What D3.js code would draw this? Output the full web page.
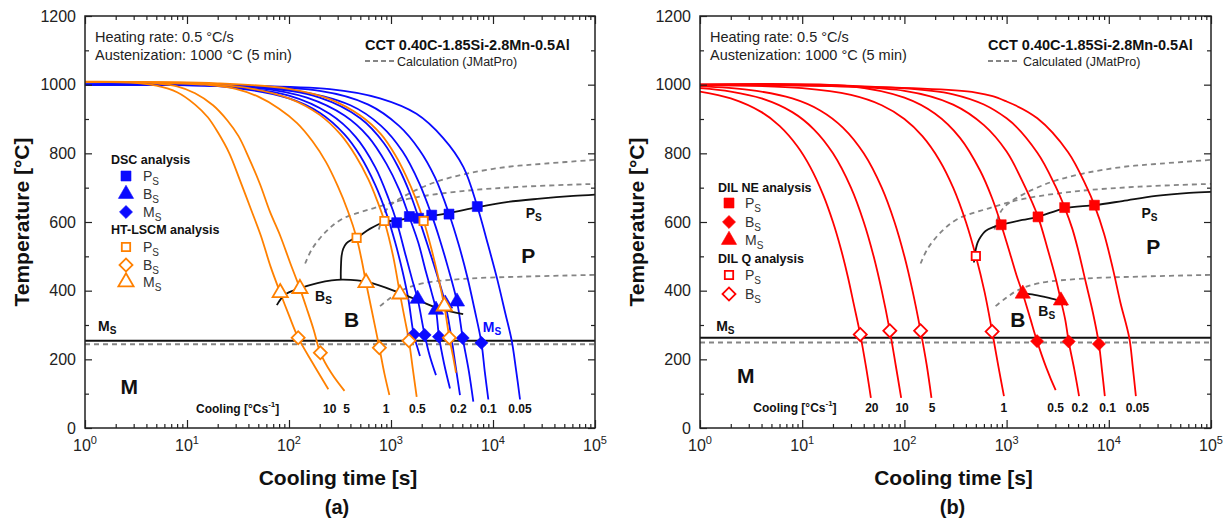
<!DOCTYPE html>
<html>
<head>
<meta charset="utf-8">
<script src="https://d3js.org/d3.v7.min.js"></script>
<style>
  body { margin: 0; background: #fff; }
  svg text { font-family: "Liberation Sans", Arial, sans-serif; }
</style>
</head>
<body>
<svg id="chart" width="1231" height="522"></svg>
<script>
// axis ticks
const timeTicks = [1, 10, 100, 1000, 10000, 100000];
const tempTicks = [0, 200, 400, 600, 800, 1000, 1200];

// (a) HT-LSCM cooling curves [time s, temp C] - orange
const lscmCurves = [
  [[1,1008],[3,1005],[5,997],[8,978],[12,942],[16,905],[20,862],[26,800],[33,722],[42,640],[53,560],[66,470],[82,394],[100,328],[123,263],[170,190],[243,113]],
  [[1,1009],[3,1008],[5,1004],[8,995],[12,975],[18,940],[25,895],[32,850],[40,790],[52,710],[65,630],[82,560],[103,480],[128,406],[150,346],[175,285],[203,219],[260,160],[350,108]],
  [[1,1008],[5,1006],[15,1000],[30,988],[50,965],[80,930],[120,888],[170,835],[230,775],[300,705],[380,630],[460,554],[515,490],[569,423],[650,340],[769,234],[860,160],[964,96]],
  [[1,1008],[10,1005],[40,990],[100,960],[200,912],[320,855],[450,793],[600,724],[730,663],[861,603],[1050,500],[1225,390],[1360,320],[1500,254],[1640,170],[1786,91]],
  [[1,1008],[20,1004],[100,988],[250,958],[500,910],[800,855],[1100,795],[1400,735],[1750,668],[2089,603],[2500,520],[2900,440],[3334,355],[3733,263],[4050,210],[4335,161]]
];

// (a) DSC cooling curves - blue
const dscCurves = [
  [[1,1000],[20,996],[100,960],[200,918],[350,855],[500,792],[700,708],[900,625],[1100,540],[1300,455],[1480,375],[1671,272],[1800,238],[1923,210]],
  [[1,1000],[20,997],[100,968],[250,915],[450,848],[700,760],[950,667],[1138,600],[1400,500],[1620,430],[1824,376],[2138,271],[2400,210],[2761,154]],
  [[1,1000],[50,990],[150,962],[350,910],[600,848],[900,770],[1200,695],[1514,614],[1850,540],[2200,455],[2500,395],[2761,344],[2951,268],[3300,190],[3786,115]],
  [[1,1000],[50,992],[200,962],[500,902],[850,830],[1200,755],[1550,680],[1866,612],[2300,530],[2800,450],[3400,363],[3900,265],[4300,180],[4746,96]],
  [[1,1000],[100,985],[400,940],[800,880],[1300,805],[1900,712],[2506,620],[3000,550],[3600,470],[4436,368],[5050,262],[5800,165],[6412,77]],
  [[1,1000],[200,982],[600,942],[1200,880],[1900,810],[2700,730],[3704,624],[4600,535],[5600,440],[6600,345],[7700,248],[8300,165],[9000,83]],
  [[1,1000],[251,987],[780,960],[1778,915],[3236,845],[5129,760],[7015,645],[8913,535],[10965,435],[13183,335],[15241,255],[16800,171],[18408,83]]
];

// (b) dilatometer cooling curves - red
const dilCurves = [
  [[1,980],[2,960],[4,920],[6,880],[9,820],[12,760],[16,680],[20,600],[24,520],[28,440],[32,360],[37,272],[42,180],[47,88]],
  [[1,990],[2,980],[4,960],[8,920],[13,870],[20,800],[30,700],[40,600],[50,500],[60,400],[72,283],[82,185],[93,88]],
  [[1,995],[3,985],[8,960],[15,925],[25,875],[40,800],[60,700],[80,600],[100,500],[120,400],[144,283],[165,185],[184,88]],
  [[1,999],[10,990],[30,970],[60,940],[100,900],[150,850],[220,780],[300,700],[400,600],[500,501],[610,395],[722,281],[830,180],[942,93]],
  [[1,1000],[30,995],[100,962],[200,915],[350,845],[550,750],[720,670],[885,592],[1100,500],[1250,445],[1440,391],[1700,320],[1986,253],[2450,175],[3020,110]],
  [[1,1000],[100,982],[300,942],[600,882],[1000,805],[1500,705],[2030,615],[2500,525],[3000,440],[3400,371],[3750,315],[4050,252],[4600,170],[5117,93]],
  [[1,1000],[300,972],[1000,902],[2000,802],[3000,705],[3700,642],[4400,580],[5000,520],[6000,420],[7000,335],[8000,245],[8600,165],[9141,93]],
  [[1,1000],[500,977],[1000,951],[2000,902],[4000,803],[6000,705],[7230,649],[9000,565],[11000,462],[13000,365],[15849,263],[17200,175],[18408,93]]
];

// experimental transformation lines
const psLineA = [[322,432],[322,455],[324,480],[328,502],[340,522],[365,538],[410,548],[460,554],[620,580],[861,600],[1138,605],[1514,611],[1866,614],[2506,618],[3704,626],[7015,643],[13600,658],[28900,668],[61400,676],[100000,680]];
const bsLineA = [[76,358],[91,388],[128,407],[190,422],[262,430],[340,432],[600,425],[1225,393],[2100,365],[3000,347],[5100,332]];
const psLineB = [[479,482],[490,505],[500,521],[520,540],[560,558],[622,574],[740,585],[885,592],[1426,606],[2030,615],[3700,640],[7230,649],[13600,661],[28900,676],[61400,685],[100000,688]];
const bsLineB = [[1370,393],[1780,389],[2410,381],[3020,374],[3400,369],[3940,358]];

// JMatPro calculated lines
const calcPsUpper = [[760,578],[853,624],[1000,650],[1507,683],[2773,717],[5585,741],[13400,760],[32100,770],[100000,781]];
const calcPsLower = [[144,479],[167,520],[225,569],[328,608],[671,640],[1500,668],[5000,690],[20000,703],[100000,711]];
const calcBs = [[780,355],[1000,380],[1300,402],[2100,422],[5600,435],[20000,441],[100000,446]];

// Ms temperatures
const msExpA = 254, msCalcA = 244, msExpB = 263, msCalcB = 249;

// markers (a)
const dscPs = [[1138,598],[1514,616],[1866,611],[2506,620],[3704,623],[7015,645]];
const dscBs = [[1824,376],[2761,344],[3400,362],[4436,368]];
const dscMs = [[1671,272],[2138,271],[2951,266],[5050,262],[7700,248]];
const lscmPs = [[460,554],[861,603],[2089,603]];
const lscmBs = [[123,263],[203,219],[769,234],[1500,254],[3733,263]];
const lscmMs = [[82,394],[128,406],[569,423],[1225,390],[3334,355]];

// markers (b)
const dilNePs = [[885,592],[2030,615],[3700,642],[7230,649]];
const dilNeBs = [[1986,253],[4050,252],[8000,245]];
const dilNeMs = [[1440,391],[3400,371]];
const dilQPs = [[500,501]];
const dilQBs = [[37,272],[72,283],[144,283],[722,281]];

// cooling-rate labels
const ratesA = ["10", "5", "1", "0.5", "0.2", "0.1", "0.05"];
const rateTimesA = [251, 367, 893, 1811, 4571, 8995, 18400];
const ratesB = ["20", "10", "5", "1", "0.5", "0.2", "0.1", "0.05"];
const rateTimesB = [48, 95, 187, 942, 3020, 5200, 9705, 19100];

const BLUE = "#0a0aff", ORANGE = "#ff8000", RED = "#ff0000", GREY = "#858585";
const TOP = 16, BOTTOM = 428;

const svg = d3.select("#chart");

function addSub(t, main, s, subSize) {
  t.append("tspan").text(main);
  t.append("tspan").attr("font-size", subSize).attr("dy", subSize * 0.4).text(s);
}

function drawMarker(g, type, filled, color, cx, cy) {
  const sym = type === "triangle" ? d3.symbolTriangle : d3.symbolSquare;
  let size = type === "square" ? (filled ? 100 : 70) : type === "triangle" ? 100 : 85;
  g.append("path")
    .attr("d", d3.symbol(sym, size)())
    .attr("transform", "translate(" + cx + "," + cy + ")" + (type === "diamond" ? " rotate(45)" : ""))
    .attr("fill", filled ? color : "#fff")
    .attr("stroke", color)
    .attr("stroke-width", filled ? 0.6 : 1.8);
}

function drawPanel(p) {
  const g = svg.append("g");
  const x = d3.scaleLog().domain([1, 1e5]).range([p.x0, p.x1]);
  const y = d3.scaleLinear().domain([0, 1200]).range([BOTTOM, TOP]);
  const line = d3.line().x(d => x(d[0])).y(d => y(d[1])).curve(d3.curveCatmullRom.alpha(0.5));

  const clipId = "clip" + p.id;
  svg.append("clipPath").attr("id", clipId).append("rect")
    .attr("x", p.x0).attr("y", TOP).attr("width", p.x1 - p.x0).attr("height", BOTTOM - TOP);
  const plot = g.append("g").attr("clip-path", "url(#" + clipId + ")");

  // calculated (JMatPro) dashed lines
  [calcPsUpper, calcPsLower, calcBs].forEach(d => {
    plot.append("path").attr("d", line(d)).attr("fill", "none")
      .attr("stroke", GREY).attr("stroke-width", 1.8).attr("stroke-dasharray", "5,4");
  });
  plot.append("line").attr("x1", p.x0).attr("x2", p.x1)
    .attr("y1", y(p.msCalc)).attr("y2", y(p.msCalc))
    .attr("stroke", GREY).attr("stroke-width", 1.8).attr("stroke-dasharray", "5,4");
  plot.append("line").attr("x1", p.x0).attr("x2", p.x1)
    .attr("y1", y(p.msExp)).attr("y2", y(p.msExp))
    .attr("stroke", "#111").attr("stroke-width", 2);

  // cooling curves
  p.curves.forEach(c => {
    c.set.forEach(d => {
      plot.append("path").attr("d", line(d)).attr("fill", "none")
        .attr("stroke", c.color).attr("stroke-width", 1.8);
    });
  });

  // experimental Ps / Bs lines
  [p.psLine, p.bsLine].forEach(d => {
    plot.append("path").attr("d", line(d)).attr("fill", "none")
      .attr("stroke", "#111").attr("stroke-width", 1.8);
  });

  // markers
  p.markers.forEach(m => {
    m.data.forEach(d => drawMarker(plot, m.type, m.filled, m.color, x(d[0]), y(d[1])));
  });

  // axes
  const minorX = [];
  for (let e = 0; e < 5; e++) for (let k = 2; k <= 9; k++) minorX.push(k * Math.pow(10, e));
  const minorY = d3.range(100, 1200, 200);

  const axes = g.append("g").attr("stroke-width", 1);
  const mk = (axisFn, scale, vals, size, tf) => axisFn(scale).tickValues(vals).tickSize(size).tickFormat(tf || "");
  axes.append("g").attr("transform", "translate(0," + BOTTOM + ")").call(mk(d3.axisBottom, x, timeTicks, -8));
  axes.append("g").attr("transform", "translate(0," + BOTTOM + ")").call(mk(d3.axisBottom, x, minorX, -4));
  axes.append("g").attr("transform", "translate(0," + TOP + ")").call(mk(d3.axisTop, x, timeTicks, -8));
  axes.append("g").attr("transform", "translate(0," + TOP + ")").call(mk(d3.axisTop, x, minorX, -4));
  axes.append("g").attr("transform", "translate(" + p.x0 + ",0)")
    .call(mk(d3.axisLeft, y, tempTicks, -7, d3.format("d")).tickPadding(9))
    .call(a => a.selectAll("text").attr("font-size", 16).attr("fill", "#222")
      .attr("font-family", '"Liberation Sans", Arial, sans-serif'));
  axes.append("g").attr("transform", "translate(" + p.x0 + ",0)").call(mk(d3.axisLeft, y, minorY, -4));
  axes.append("g").attr("transform", "translate(" + p.x1 + ",0)").call(mk(d3.axisRight, y, tempTicks, -7));
  axes.append("g").attr("transform", "translate(" + p.x1 + ",0)").call(mk(d3.axisRight, y, minorY, -4));
  axes.selectAll(".domain").remove();
  axes.selectAll("line").attr("stroke", "#222").attr("stroke-width", 1.2);

  g.append("rect").attr("x", p.x0).attr("y", TOP).attr("width", p.x1 - p.x0).attr("height", BOTTOM - TOP)
    .attr("fill", "none").attr("stroke", "#222").attr("stroke-width", 1.5);

  // x tick labels 10^n
  timeTicks.forEach((v, i) => {
    const t = g.append("text").attr("x", x(v)).attr("y", BOTTOM + 23)
      .attr("text-anchor", "middle").attr("font-size", 16).attr("fill", "#222");
    t.append("tspan").text("10");
    t.append("tspan").attr("font-size", 11).attr("dy", -7).text(i);
  });

  // axis titles
  g.append("text").attr("x", (p.x0 + p.x1) / 2 - 2).attr("y", 485).attr("text-anchor", "middle")
    .attr("font-size", 21).attr("font-weight", "bold").attr("fill", "#111").text("Cooling time [s]");
  g.append("text").attr("x", (p.x0 + p.x1) / 2 - 3).attr("y", 514).attr("text-anchor", "middle")
    .attr("font-size", 20).attr("font-weight", "bold").attr("fill", "#111").text(p.letter);
  g.append("text").attr("transform", "translate(" + (p.x0 - 64) + "," + 222 + ") rotate(-90)")
    .attr("text-anchor", "middle").attr("dominant-baseline", "central")
    .attr("font-size", 21).attr("font-weight", "bold").attr("fill", "#111").text("Temperature [°C]");

  // header texts
  g.append("text").attr("x", p.x0 + 10).attr("y", 42).attr("font-size", 14.5).attr("fill", "#222")
    .text("Heating rate: 0.5 °C/s");
  g.append("text").attr("x", p.x0 + 10).attr("y", 60).attr("font-size", 14.5).attr("fill", "#222")
    .text("Austenization: 1000 °C (5 min)");
  g.append("text").attr("x", p.titleX).attr("y", 50).attr("font-size", 14.5).attr("font-weight", "bold")
    .attr("fill", "#111").text("CCT 0.40C-1.85Si-2.8Mn-0.5Al");
  g.append("line").attr("x1", p.titleX).attr("x2", p.titleX + p.dashLen).attr("y1", 61).attr("y2", 61)
    .attr("stroke", GREY).attr("stroke-width", 1.8).attr("stroke-dasharray", "5,3");
  g.append("text").attr("x", p.titleX + p.dashLen + 3).attr("y", 65.5).attr("font-size", 12.5).attr("fill", "#222")
    .text(p.calcText);

  // legend
  p.legend.titles.forEach(tt => {
    g.append("text").attr("x", p.legend.x).attr("y", tt.y).attr("dominant-baseline", "central")
      .attr("font-size", 12.5).attr("font-weight", "bold").attr("fill", "#111").text(tt.text);
  });
  p.legend.rows.forEach(r => {
    drawMarker(g, r.type, r.filled, r.color, p.legend.mx, r.y);
    const t = g.append("text").attr("x", p.legend.tx).attr("y", r.y + 5)
      .attr("font-size", 14).attr("fill", "#333");
    addSub(t, r.label, "S", 10);
  });

  // region / boundary labels
  p.labels.forEach(l => {
    const t = g.append("text").attr("x", x(l.t)).attr("y", y(l.T))
      .attr("text-anchor", l.anchor || "start").attr("dominant-baseline", "central")
      .attr("font-size", l.size).attr("font-weight", "bold").attr("fill", l.color || "#111");
    if (l.sub) addSub(t, l.text, l.sub, l.size * 0.72); else t.text(l.text);
  });

  // cooling rate labels
  const ct = g.append("text").attr("x", x(p.coolT)).attr("y", y(p.coolY)).attr("text-anchor", "middle")
    .attr("dominant-baseline", "central").attr("font-size", 12).attr("font-weight", "bold").attr("fill", "#111");
  ct.append("tspan").text("Cooling [°Cs");
  ct.append("tspan").attr("font-size", 8).attr("dy", -5).text("-1");
  ct.append("tspan").attr("dy", 5).text("]");
  p.rates.forEach((r, i) => {
    g.append("text").attr("x", x(p.rateTimes[i])).attr("y", y(p.coolY)).attr("text-anchor", "middle")
      .attr("dominant-baseline", "central").attr("font-size", 12).attr("font-weight", "bold")
      .attr("fill", "#111").text(r);
  });
}

drawPanel({
  id: "a", x0: 85, x1: 595, letter: "(a)",
  titleX: 365, dashLen: 29, calcText: "Calculation (JMatPro)",
  msExp: msExpA, msCalc: msCalcA,
  curves: [{ set: dscCurves, color: BLUE }, { set: lscmCurves, color: ORANGE }],
  psLine: psLineA, bsLine: bsLineA,
  markers: [
    { data: dscPs, type: "square", filled: true, color: BLUE },
    { data: dscBs, type: "triangle", filled: true, color: BLUE },
    { data: dscMs, type: "diamond", filled: true, color: BLUE },
    { data: lscmPs, type: "square", filled: false, color: ORANGE },
    { data: lscmBs, type: "diamond", filled: false, color: ORANGE },
    { data: lscmMs, type: "triangle", filled: false, color: ORANGE }
  ],
  legend: {
    x: 111, mx: 126, tx: 143,
    titles: [{ text: "DSC analysis", y: 160 }, { text: "HT-LSCM analysis", y: 230 }],
    rows: [
      { type: "square", filled: true, color: BLUE, label: "P", y: 176 },
      { type: "triangle", filled: true, color: BLUE, label: "B", y: 194 },
      { type: "diamond", filled: true, color: BLUE, label: "M", y: 212 },
      { type: "square", filled: false, color: ORANGE, label: "P", y: 247 },
      { type: "diamond", filled: false, color: ORANGE, label: "B", y: 265 },
      { type: "triangle", filled: false, color: ORANGE, label: "M", y: 282 }
    ]
  },
  labels: [
    { text: "P", sub: "S", t: 20900, T: 627, size: 14 },
    { text: "P", t: 22200, T: 503, size: 21, anchor: "middle" },
    { text: "B", t: 411, T: 317, size: 21, anchor: "middle" },
    { text: "B", sub: "S", t: 180, T: 384, size: 14 },
    { text: "M", sub: "S", t: 7950, T: 294, size: 14, color: BLUE },
    { text: "M", sub: "S", t: 1.34, T: 297, size: 14 },
    { text: "M", t: 2.71, T: 122, size: 21, anchor: "middle" }
  ],
  coolT: 31.4, coolY: 56, rates: ratesA, rateTimes: rateTimesA
});

drawPanel({
  id: "b", x0: 700, x1: 1211, letter: "(b)",
  titleX: 988, dashLen: 32, calcText: "Calculated (JMatPro)",
  msExp: msExpB, msCalc: msCalcB,
  curves: [{ set: dilCurves, color: RED }],
  psLine: psLineB, bsLine: bsLineB,
  markers: [
    { data: dilNePs, type: "square", filled: true, color: RED },
    { data: dilNeBs, type: "diamond", filled: true, color: RED },
    { data: dilNeMs, type: "triangle", filled: true, color: RED },
    { data: dilQPs, type: "square", filled: false, color: RED },
    { data: dilQBs, type: "diamond", filled: false, color: RED }
  ],
  legend: {
    x: 718, mx: 729, tx: 745,
    titles: [{ text: "DIL NE analysis", y: 188 }, { text: "DIL Q analysis", y: 259 }],
    rows: [
      { type: "square", filled: true, color: RED, label: "P", y: 203 },
      { type: "diamond", filled: true, color: RED, label: "B", y: 222 },
      { type: "triangle", filled: true, color: RED, label: "M", y: 240 },
      { type: "square", filled: false, color: RED, label: "P", y: 275 },
      { type: "diamond", filled: false, color: RED, label: "B", y: 294 }
    ]
  },
  labels: [
    { text: "P", sub: "S", t: 20900, T: 627, size: 14 },
    { text: "P", t: 27200, T: 530, size: 21, anchor: "middle" },
    { text: "B", t: 1291, T: 317, size: 21, anchor: "middle" },
    { text: "B", sub: "S", t: 2042, T: 341, size: 14 },
    { text: "M", sub: "S", t: 1.44, T: 297, size: 14 },
    { text: "M", t: 2.81, T: 153, size: 21, anchor: "middle" }
  ],
  coolT: 8.5, coolY: 59, rates: ratesB, rateTimes: rateTimesB
});
</script>
</body>
</html>
